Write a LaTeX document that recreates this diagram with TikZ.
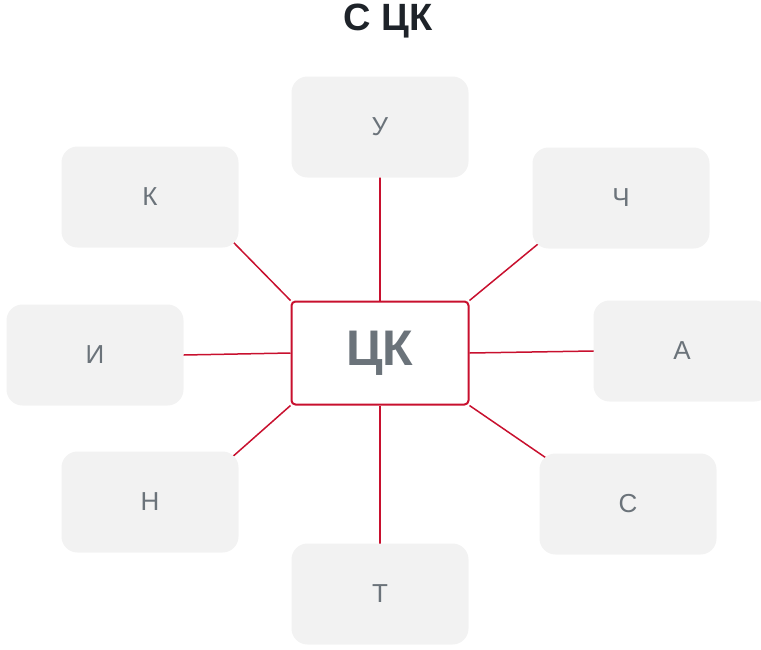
\documentclass[tikz,border=0pt]{standalone}
\usepackage{fontspec}
\setmainfont{Liberation Sans}
\usetikzlibrary{backgrounds}
\definecolor{crimson}{HTML}{C8102E}
\definecolor{boxgray}{HTML}{F2F2F2}
\definecolor{txtgray}{HTML}{6B737A}
\definecolor{titledark}{HTML}{1E2329}
\tikzset{leaf/.style = {shape=rectangle,rounded corners=16pt,fill=boxgray,minimum width=177pt,minimum height=101pt,text=txtgray,font=\fontsize{26}{28}\selectfont}}
\tikzset{hub/.style = {shape=rectangle,rounded corners=4pt,draw=crimson,line width=2pt,fill=white,minimum width=177pt,minimum height=103pt,text=txtgray,font=\bfseries\fontsize{50}{54}\selectfont}}
\tikzset{link/.style = {draw=crimson,line width=1.5pt,shorten >=-10pt}}

\begin{document}
\begin{tikzpicture}[x=1pt,y=-1pt]
  \useasboundingbox (0,0) rectangle (761,649);
  \node[font=\bfseries\fontsize{38}{42}\selectfont,text=titledark] (title) at (388,21) {С ЦК};

  \node[leaf] (u) at (380,127) {У};
  \node[leaf] (k) at (150,197) {К};
  \node[leaf] (ch) at (621,198) {Ч};
  \node[leaf] (i) at (95,355) {И};
  \node[leaf] (a) at (682,351) {А};
  \node[leaf] (n) at (150,502) {Н};
  \node[leaf] (s) at (628,504) {С};
  \node[leaf] (t) at (380,594) {Т};
  \node[hub] (ck) at (380,353) {ЦК};

  % links run under the boxes
  \begin{pgfonlayer}{background}
    \path[link] (ck.north) -- (u.south);
    \path[link] (ck.north west) -- (k.south east);
    \path[link] (ck.north east) -- (ch.south west);
    \path[link] (ck.west) -- (i.east);
    \path[link] (ck.east) -- (a.west);
    \path[link] (ck.south west) -- (n.north east);
    \path[link] (ck.south east) -- (s.north west);
    \path[link] (ck.south) -- (t.north);
  \end{pgfonlayer}
\end{tikzpicture}
\end{document}
